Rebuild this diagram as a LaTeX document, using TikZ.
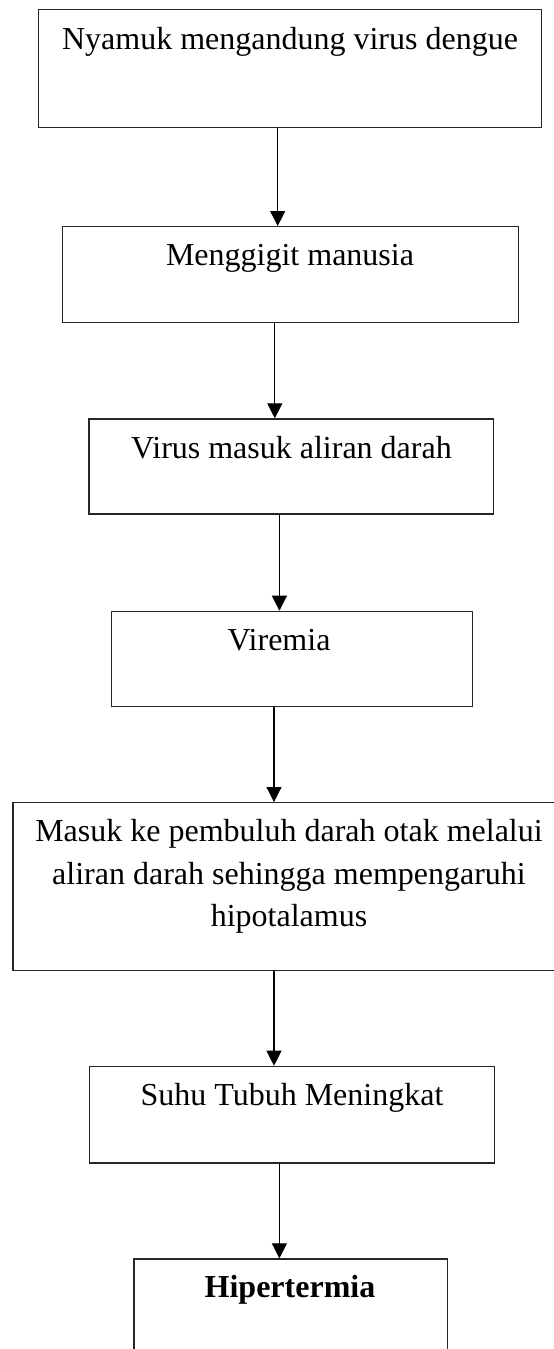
\documentclass[tikz,border=0pt]{standalone}
\usepackage{fontspec}
\setmainfont{Liberation Serif}
\usetikzlibrary{arrows.meta}
\begin{document}
\begin{tikzpicture}[x=1pt,y=-1pt,
  box/.style={draw=black!85, line width=1.2pt, rectangle, inner sep=0pt, anchor=north west},
  lbl/.style={inner sep=0pt, anchor=base, font=\fontsize{32}{42.5}\selectfont},
  arr/.style={line width=1.1pt, -{Triangle[length=15pt,width=15pt]}}]
\useasboundingbox (0,0) rectangle (554,1349);
\node[box, minimum width=503pt,   minimum height=117.7pt] (b1) at (37.7,9) {};
\node[box, minimum width=455.8pt, minimum height=95.7pt]  (b2) at (61.7,226) {};
\node[box, minimum width=404.7pt, minimum height=95pt]    (b3) at (88.3,418.3) {};
\node[box, minimum width=360.9pt, minimum height=95.3pt]  (b4) at (110.7,610.7) {};
\node[box, minimum width=553.6pt, minimum height=168pt]   (b5) at (12.4,802) {};
\node[box, minimum width=405.3pt, minimum height=96.6pt]  (b6) at (88.7,1065.7) {};
\node[box, minimum width=313.5pt, minimum height=141.7pt] (b7) at (133.3,1258.3) {};

\node[lbl] (t1) at (290,49) {Nyamuk mengandung virus dengue};
\node[lbl] (t2) at (290,265.7) {Menggigit manusia};
\node[lbl] (t3) at (291.5,458) {Virus masuk aliran darah};
\node[lbl] (t4) at (279,650.7) {Viremia};
\node[lbl] (t5a) at (289,841.7) {Masuk ke pembuluh darah otak melalui};
\node[lbl] (t5b) at (289,884.2) {aliran darah sehingga mempengaruhi};
\node[lbl] (t5c) at (289,926.7) {hipotalamus};
\node[lbl] (t6) at (292,1105.7) {Suhu Tubuh Meningkat};
\node[lbl, font=\fontsize{32}{42.5}\selectfont\bfseries] (t7) at (290,1297) {Hipertermia};

\draw[arr] (b1.south -| 277.7,0) -- (b2.north -| 277.7,0);
\draw[arr] (b2.south -| 274.8,0) -- (b3.north -| 274.8,0);
\draw[arr] (b3.south -| 279.4,0) -- (b4.north -| 279.4,0);
\draw[arr] (b4.south -| 274,0) -- (b5.north -| 274,0);
\draw[arr] (b5.south -| 274,0) -- (b6.north -| 274,0);
\draw[arr] (b6.south -| 279.4,0) -- (b7.north -| 279.4,0);
\end{tikzpicture}
\end{document}
